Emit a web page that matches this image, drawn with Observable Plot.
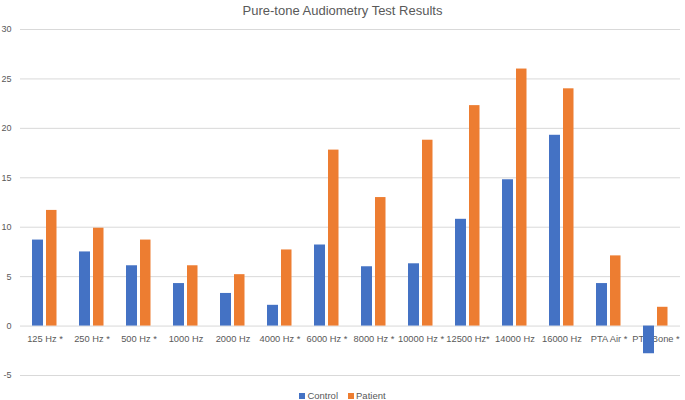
<!DOCTYPE html>
<html>
<head>
<meta charset="utf-8">
<script src="https://cdn.jsdelivr.net/npm/d3@7"></script>
<script src="https://cdn.jsdelivr.net/npm/@observablehq/plot@0.6"></script>
<style>
  body { margin: 0; background: #fff; font-family: "Liberation Sans", Arial, sans-serif; }
  #title { height: 20px; line-height: 22px; text-align: center; font-size: 13px; color: #595959; }
  #legend { height: 15px; line-height: 22px; text-align: center; font-size: 9.5px; color: #595959; }
  .sw { display: inline-block; width: 6px; height: 6px; margin-right: 2px; vertical-align: 0px; }
  .item { margin: 0 5px; }
</style>
</head>
<body>
<div id="title">Pure-tone Audiometry Test Results</div>
<div id="chart"></div>
<div id="legend"></div>
<script>
const categories = ["125 Hz *","250 Hz *","500 Hz *","1000 Hz","2000 Hz","4000 Hz *","6000 Hz *","8000 Hz *","10000 Hz *","12500 Hz*","14000 Hz","16000 Hz","PTA Air *","PTA Bone *"];
const control = [8.7, 7.5, 6.1, 4.3, 3.3, 2.1, 8.2, 6.0, 6.3, 10.8, 14.8, 19.3, 4.3, -2.8];
const patient = [11.7, 9.9, 8.7, 6.1, 5.2, 7.7, 17.8, 13.0, 18.8, 22.3, 26.0, 24.0, 7.1, 1.9];
const yTicks = [-5, 0, 5, 10, 15, 20, 25, 30];
const seriesNames = ["Control", "Patient"];
const colors = ["#4472C4", "#ED7D31"];

const rows = categories.map((c, i) => ({category: c, control: control[i], patient: patient[i]}));

const chart = Plot.plot({
  width: 685,
  height: 365,
  marginLeft: 20,
  marginRight: 5,
  marginTop: 9,
  marginBottom: 10,
  style: {fontFamily: "Liberation Sans, Arial, sans-serif", fontSize: "9px", color: "#595959", background: "#fff"},
  x: {domain: categories, padding: 0, axis: null},
  y: {domain: [-5, 30], ticks: yTicks, label: null},
  marks: [
    Plot.ruleY(yTicks, {stroke: "#d9d9d9", strokeWidth: 1}),
    Plot.axisY({ticks: yTicks, tickSize: 0, tickPadding: 9, label: null, fill: "#595959", fontSize: 9, tickFormat: d => String(d)}),
    Plot.text(categories, {x: d => d, y: () => 0, dy: 13, fill: "#595959", fontSize: 9.3}),
    Plot.barY(rows, {x: "category", y: "control", fill: colors[0], insetLeft: 11, insetRight: 25}),
    Plot.barY(rows, {x: "category", y: "patient", fill: colors[1], insetLeft: 25, insetRight: 11.5})
  ]
});
document.getElementById("chart").appendChild(chart);

document.getElementById("legend").innerHTML = seriesNames.map((s, i) =>
  `<span class="item"><span class="sw" style="background:${colors[i]}"></span>${s}</span>`).join("");
</script>
</body>
</html>
